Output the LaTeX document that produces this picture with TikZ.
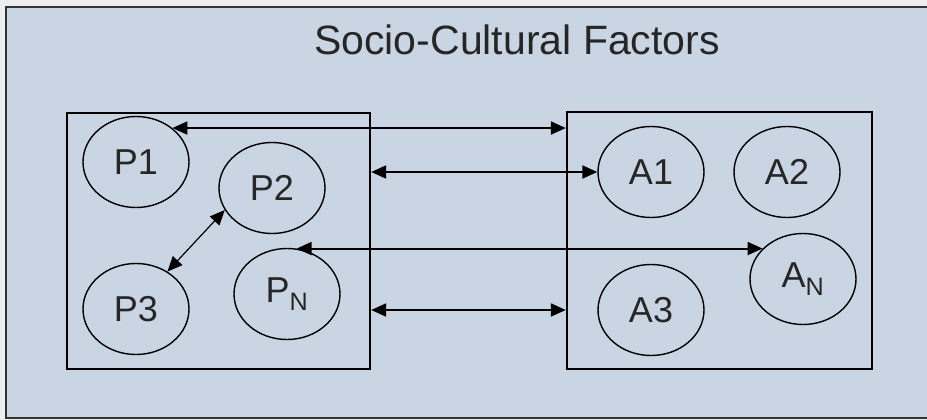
\documentclass[tikz,border=0pt]{standalone}
\usepackage{fontspec}
\setmainfont{Liberation Sans}
\usetikzlibrary{positioning}
\usetikzlibrary{shapes.geometric}
\usetikzlibrary{arrows.meta}
\definecolor{panel}{RGB}{201,213,226}
\definecolor{paper}{RGB}{236,238,240}
\tikzset{
	every node/.style = {font=\fontsize{36}{42}\selectfont, text=black!85},
	factor/.style = {draw, ellipse, line width=1.4pt, minimum width=106pt, minimum height=91pt, inner sep=0pt},
	group/.style = {draw, rectangle, line width=2.4pt, inner sep=0pt},
	link/.style = {{Triangle[length=15pt,width=13pt]}-{Triangle[length=15pt,width=13pt]}, line width=2pt}
}

\begin{document}
\begin{tikzpicture}[x=1pt,y=-1pt]
		\useasboundingbox[fill=paper] (0,0) rectangle (927,420);
		\draw[line width=2.4pt, fill=panel, draw=black!80] (6,7) rectangle (940,418);
		\node[anchor=base, font=\fontsize{41}{48}\selectfont] (title) at (517,55) {Socio-Cultural Factors};
		% groups
		\node[group, minimum width=303pt, minimum height=256pt] (lbox) at (218.5,241) {};
		\node[group, minimum width=305pt, minimum height=257pt] (rbox) at (719.5,240.5) {};
		% factors
		\foreach \n/\x/\y/\t in {P1/136/162/P1, P2/272/188/P2, P3/136/309/P3, PN/287/294/{P\textsubscript{N}},
			A1/651/172/A1, A2/787/172/A2, A3/651/310/A3, AN/803/279/{A\textsubscript{N}}}
			\node[factor] (\n) at (\x,\y) {\t};
		% links
		\draw[link] (P1.43) -- (P1.43 -| rbox.west);
		\draw[link] (A1.west -| lbox.east) -- (A1.west);
		\draw[link] (PN.78) -- (PN.78 -| AN.143);
		\draw[link] (A3.west -| lbox.east) -- (A3.west -| rbox.west);
		\draw[link, line width=1.2pt] (P2.205) -- (P3.50);
\end{tikzpicture}
\end{document}
